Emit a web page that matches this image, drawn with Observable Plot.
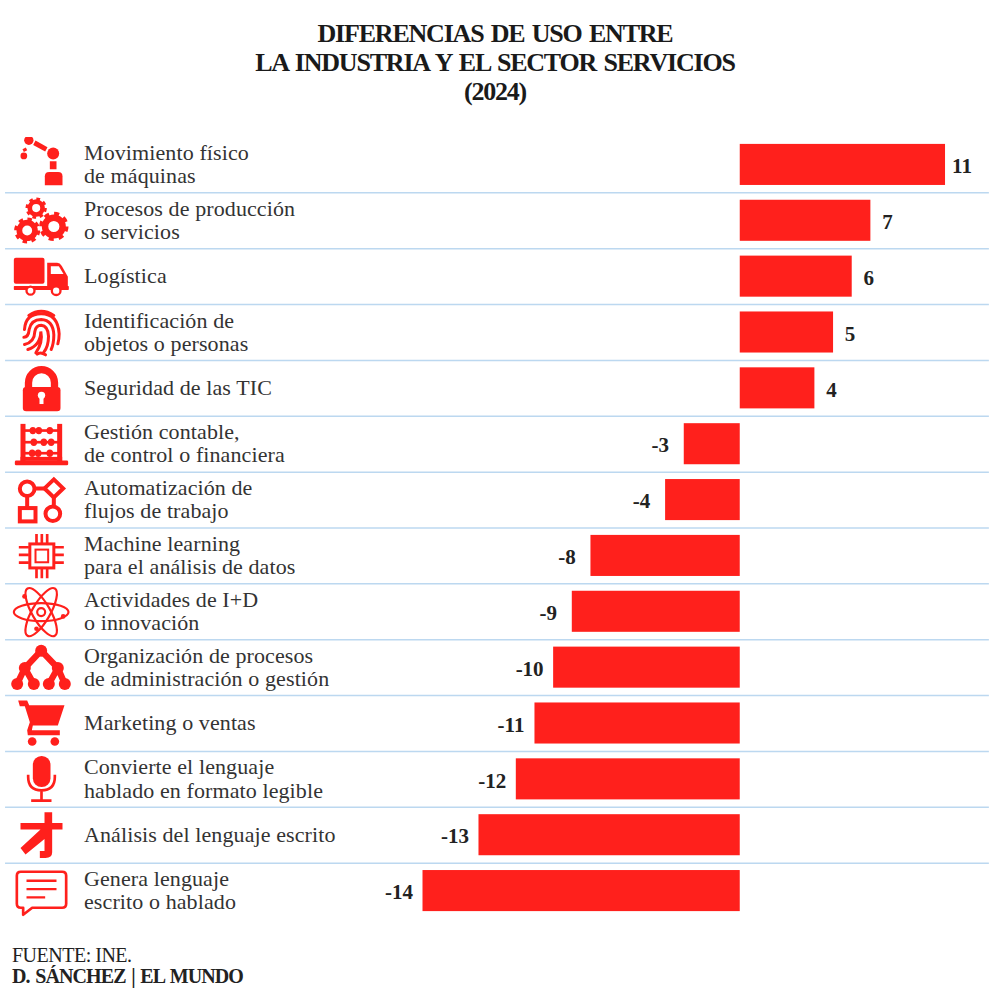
<!DOCTYPE html>
<html lang="es">
<head>
<meta charset="utf-8">
<script src="https://cdn.jsdelivr.net/npm/d3@7"></script>
<script src="https://cdn.jsdelivr.net/npm/@observablehq/plot@0.6"></script>
<style>
  html,body{margin:0;padding:0;background:#fff;}
  #root{width:990px;height:996px;position:relative;overflow:hidden;font-family:"Liberation Serif",serif;}
  #title{height:130px;box-sizing:border-box;padding-top:19px;text-align:center;font-weight:700;font-size:26px;line-height:29px;color:#1a1a1a;letter-spacing:-1.2px;word-spacing:2px;}
  #chart svg{display:block;}
  #foot{position:absolute;left:12px;top:945px;font-size:20px;line-height:21px;color:#222;letter-spacing:-0.5px;}
  #foot b{display:block;letter-spacing:-0.9px;word-spacing:1.5px;}
</style>
</head>
<body>
<div id="root">
  <div id="title">DIFERENCIAS DE USO ENTRE<br>LA INDUSTRIA Y EL SECTOR SERVICIOS<br>(2024)</div>
  <div id="chart"></div>
  <div id="foot">FUENTE: INE.<b>D. SÁNCHEZ | EL MUNDO</b></div>
</div>
<script>
const categories = [
  "Movimiento físico\nde máquinas",
  "Procesos de producción\no servicios",
  "Logística",
  "Identificación de\nobjetos o personas",
  "Seguridad de las TIC",
  "Gestión contable,\nde control o financiera",
  "Automatización de\nflujos de trabajo",
  "Machine learning\npara el análisis de datos",
  "Actividades de I+D\no innovación",
  "Organización de procesos\nde administración o gestión",
  "Marketing o ventas",
  "Convierte el lenguaje\nhablado en formato legible",
  "Análisis del lenguaje escrito",
  "Genera lenguaje\nescrito o hablado"
];
// Bar lengths as drawn in the picture
const barLengths = [11, 7, 6, 5, 4, -3, -4, -8, -9, -10, -11, -12, -14, -17];
// Value labels as printed in the picture
const printedLabels = ["11", "7", "6", "5", "4", "-3", "-4", "-8", "-9", "-10", "-11", "-12", "-13", "-14"];

const RED = "#ff201c";
const gear = (x, y, R) => `
  <circle cx="${x}" cy="${y}" r="${R * .6}" fill="none" stroke="${RED}" stroke-width="${R * .44}"/>
  <circle cx="${x}" cy="${y}" r="${R * .88}" fill="none" stroke="${RED}" stroke-width="${R * .24}" pathLength="16" stroke-dasharray="1 1"/>`;
const glyphs = [
  [35, `<g fill="${RED}"><circle cx="85" cy="45" r="14"/><circle cx="158" cy="85" r="18"/><circle cx="70" cy="92" r="10"/><path d="M66 72l10-5 4 8-10 5z"/><path d="M105 46l36 20-7 13-36-20z"/><rect x="148" y="108" width="20" height="24"/><path d="M133 180V153q0-13 13-13h27q13 0 13 13v27z"/></g>`],
  [202, gear(107, 248, 32) + gear(80, 315, 39) + gear(160, 303, 44)],
  [370, `<g fill="${RED}"><rect x="40" y="397" width="92" height="78" rx="6"/><path d="M140 412h30q8 0 14 10l18 32v28h-62z"/><rect x="40" y="482" width="165" height="12" rx="2"/></g><path d="M151 423h24l14 23h-38z" fill="#fff"/><circle cx="90" cy="496" r="12" fill="#fff" stroke="${RED}" stroke-width="7"/><circle cx="167" cy="496" r="13" fill="#fff" stroke="${RED}" stroke-width="7"/>`],
  [537, `<g fill="none" stroke="${RED}" stroke-width="9" stroke-linecap="round"><path d="M85 570Q122 545 160 570"/><path d="M72 612Q75 565 122 565Q172 565 176 625Q176 642 172 655"/><path d="M70 635Q84 635 86 612Q92 582 122 582Q158 584 160 628Q160 655 152 672"/><path d="M72 657Q102 650 103 618Q106 599 122 599Q143 601 144 632Q144 662 130 680"/><path d="M82 672Q120 660 121 618Q128 650 106 682"/><path d="M110 686Q120 678 135 688"/></g>`],
  [705, `<rect x="67" y="785" width="113" height="73" rx="10" fill="${RED}"/><path d="M84 792V772a39 39 0 0 1 78 0V792" fill="none" stroke="${RED}" stroke-width="22"/><circle cx="123" cy="810" r="11" fill="#fff"/><rect x="117" y="812" width="12" height="24" fill="#fff"/>`],
  [2, `<g fill="${RED}"><rect x="60" y="25" width="15" height="120"/><rect x="170" y="25" width="15" height="120"/><rect x="43" y="135" width="160" height="14" rx="4"/><rect x="60" y="124" width="125" height="12"/><rect x="70" y="41" width="105" height="8"/><rect x="70" y="76" width="105" height="8"/><rect x="70" y="109" width="105" height="8"/><ellipse cx="97" cy="45" rx="10" ry="11"/><ellipse cx="115" cy="45" rx="10" ry="11"/><ellipse cx="148" cy="45" rx="10" ry="11"/><ellipse cx="100" cy="80" rx="10" ry="11"/><ellipse cx="130" cy="80" rx="10" ry="11"/><ellipse cx="152" cy="80" rx="10" ry="11"/><ellipse cx="95" cy="113" rx="10" ry="11"/><ellipse cx="113" cy="113" rx="10" ry="11"/><ellipse cx="148" cy="113" rx="10" ry="11"/></g>`],
  [170, `<g fill="none" stroke="${RED}" stroke-width="12"><circle cx="80" cy="220" r="22"/><path d="M160 192l28 27-28 27-28-27z"/><path d="M102 219H133"/><rect x="58" y="278" width="47" height="40"/><circle cx="157" cy="295" r="22"/><path d="M80 242V278"/><path d="M160 246V273"/></g>`],
  [337, `<g fill="none" stroke="${RED}"><rect x="88" y="385" width="72" height="72" stroke-width="9"/><rect x="105" y="402" width="38" height="38" stroke-width="6"/><path stroke-width="8" d="M55 395H85M55 418H85M55 441H85M163 395H190M163 418H190M163 441H190M108 355V382M124 355V382M140 355V382M108 460V488M124 460V488M140 460V488"/></g>`],
  [505, `<g fill="none" stroke="${RED}" stroke-width="6.5"><ellipse cx="122" cy="590" rx="82" ry="27"/><ellipse cx="122" cy="590" rx="82" ry="27" transform="rotate(60 122 590)"/><ellipse cx="122" cy="590" rx="82" ry="27" transform="rotate(120 122 590)"/><circle cx="122" cy="590" r="12"/></g><g fill="${RED}"><circle cx="72" cy="543" r="7"/><circle cx="188" cy="603" r="7"/><circle cx="108" cy="640" r="7"/></g>`],
  [672, `<path d="M122 705L73 757L50 805M73 757L100 805M122 705L172 757L145 805M172 757L193 805" fill="none" stroke="${RED}" stroke-width="19"/><g fill="${RED}"><circle cx="122" cy="705" r="18"/><circle cx="73" cy="757" r="18"/><circle cx="172" cy="757" r="18"/><circle cx="50" cy="805" r="18"/><circle cx="100" cy="805" r="18"/><circle cx="145" cy="805" r="18"/><circle cx="193" cy="805" r="18"/></g>`],
  [0, `<path fill="${RED}" d="M53 15H80L86 29H192L172 90H97L94 104H178V119H82L80 104L88 80L73 32H58z"/><circle cx="95" cy="138" r="13" fill="${RED}"/><circle cx="163" cy="138" r="13" fill="${RED}"/>`],
  [168, `<rect x="97" y="182" width="53" height="93" rx="26" fill="${RED}"/><path d="M83 238V245q0 40 40 40q40 0 40-40V238M123 285V316M92 316H153" fill="none" stroke="${RED}" stroke-width="8"/>`],
  [335, `<path fill="${RED}" d="M60 382H132V350H155V382H186V402H155V470Q155 487 135 487H118V466H132V430L75 477L60 457L120 402H60Z"/>`],
  [503, `<path fill="none" stroke="${RED}" stroke-width="8" stroke-linejoin="round" d="M61 529H185Q197 529 197 541V625Q197 637 185 637H95L68 658V637H61Q49 637 49 625V541Q49 529 61 529Z"/><path fill="none" stroke="${RED}" stroke-width="7" d="M78 556H168M78 581H168M78 606H134"/>`]
];
const icons = glyphs.map(([y0, body]) =>
  "data:image/svg+xml," + encodeURIComponent(
    `<svg xmlns="http://www.w3.org/2000/svg" viewBox="24 ${y0} 210 168" width="70" height="56">${body}</svg>`));

const rows = categories.map((label, i) => ({
  label, value: barLengths[i], printed: printedLabels[i], icon: icons[i]
}));

const chart = Plot.plot({
  width: 990,
  height: 800,
  marginTop: 6.5,
  marginBottom: 11.5,
  marginLeft: 0,
  marginRight: 0,
  style: {fontFamily: '"Liberation Serif", serif', background: "#fff", overflow: "visible"},
  x: {domain: [-39.64, 13.41], axis: null},
  y: {domain: categories, axis: null, padding: 0, round: false},
  marks: [
    Plot.ruleY(categories.slice(1), {
      y: d => d, dy: -27.93, stroke: "#bcd8f0", strokeWidth: 1.5,
      x1: -39.37, x2: 13.35
    }),
    Plot.barX(rows, {
      y: "label", x1: 0, x2: "value", fill: RED,
      insetTop: 7.4, insetBottom: 7.4
    }),
    Plot.image(rows, {
      y: "label", src: "icon", frameAnchor: "left",
      dx: 43, width: 70, height: 56, preserveAspectRatio: "xMidYMid meet"
    }),
    Plot.text(rows, {
      y: "label", text: "label", frameAnchor: "left", dx: 83.5, dy: -0.8,
      textAnchor: "start", fontSize: 22, lineHeight: 1.05, fill: "#333"
    }),
    Plot.text(rows.filter(d => d.value > 0), {
      y: "label", x: "value", text: "printed", dx: 16.5, dy: 1.5, textAnchor: "middle",
      fontSize: 21, fontWeight: 700, fill: "#222"
    }),
    Plot.text(rows.filter(d => d.value < 0), {
      y: "label", x: "value", text: "printed", dx: -24, dy: 1.5, textAnchor: "middle",
      fontSize: 21, fontWeight: 700, fill: "#222"
    })
  ]
});
chart.querySelectorAll('g[font-size="22"]').forEach(g => g.style.letterSpacing = "0.1px");
document.getElementById("chart").appendChild(chart);
</script>
</body>
</html>
